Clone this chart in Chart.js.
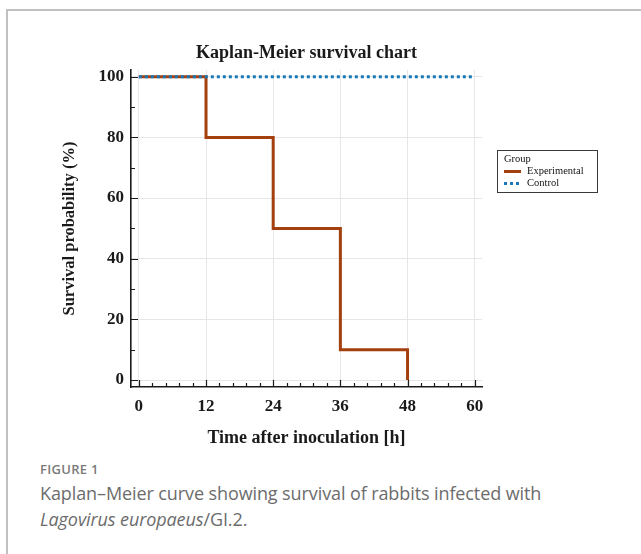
<!DOCTYPE html>
<html>
<head>
<meta charset="utf-8">
<script src="https://cdn.jsdelivr.net/npm/chart.js@4.4.1/dist/chart.umd.min.js"></script>
<style>
  html, body { margin: 0; padding: 0; background: #fff; }
  body { width: 641px; height: 554px; position: relative; overflow: hidden; }
  .frame { position: absolute; left: 6px; top: 9px; right: -10px; bottom: -10px;
           border-left: 2px solid #c0c0c0; border-top: 2px solid #c0c0c0; }
  #c { position: absolute; left: 0; top: 0; }
  .fig { position: absolute; left: 40px; top: 460px; font-family: "Open Sans", sans-serif;
         font-weight: 600; font-size: 13px; color: #7a7a7a; letter-spacing: 0.3px; }
  .cap { position: absolute; left: 40px; top: 480px; width: 598px; font-family: "Open Sans", sans-serif;
         font-size: 18px; line-height: 26px; color: #6c6c6c; letter-spacing: -0.1px; }
</style>
</head>
<body>
<div class="frame"></div>
<canvas id="c" width="641" height="450"></canvas>
<div class="fig">FIGURE 1</div>
<div class="cap">Kaplan–Meier curve showing survival of rabbits infected with<br><i>Lagovirus europaeus</i>/GI.2.</div>
<script>
// Kaplan-Meier step data (time in hours, survival in %)
const timesExperimental = [0, 12, 24, 36, 48];
const survivalExperimental = [100, 80, 50, 10, 0];
const timesControl = [0, 60];
const survivalControl = [100, 100];

const seriesNames = ['Experimental', 'Control'];
const legendTitle = 'Group';

const xTickValues = [0, 12, 24, 36, 48, 60];
const yTickValues = [0, 20, 40, 60, 80, 100];

const serif = '"Liberation Serif", "Times New Roman", serif';
const ink = '#1a1a1a';

function points(xs, ys) { return xs.map((x, i) => ({ x: x, y: ys[i] })); }

// Inward-pointing major and minor tick marks along both axes
const axisTicks = {
  id: 'axisTicks',
  afterDatasetsDraw(chart) {
    const { ctx, chartArea: a, scales: { x, y } } = chart;
    ctx.save();
    ctx.strokeStyle = ink;
    ctx.lineWidth = 1.2;
    ctx.beginPath();
    const bottom = a.bottom;
    xTickValues.forEach((v, i) => {
      const p = Math.round(x.getPixelForValue(v)) + 0.5;
      ctx.moveTo(p, bottom); ctx.lineTo(p, bottom - 7);
      if (i < xTickValues.length - 1) {
        const step = (xTickValues[i + 1] - v) / 5;
        for (let k = 1; k < 5; k++) {
          const q = Math.round(x.getPixelForValue(v + k * step)) + 0.5;
          ctx.moveTo(q, bottom); ctx.lineTo(q, bottom - 4);
        }
      }
    });
    const left = a.left;
    yTickValues.forEach((v, i) => {
      const p = Math.round(y.getPixelForValue(v)) + 0.5;
      ctx.moveTo(left, p); ctx.lineTo(left + 7, p);
      if (i < yTickValues.length - 1) {
        const q = Math.round(y.getPixelForValue((v + yTickValues[i + 1]) / 2)) + 0.5;
        ctx.moveTo(left, q); ctx.lineTo(left + 4, q);
      }
    });
    ctx.stroke();
    ctx.restore();
  }
};

// Boxed legend with a group heading, placed right of the plot
const groupLegend = {
  id: 'groupLegend',
  afterDraw(chart) {
    const { ctx } = chart;
    const bx = chart.chartArea.right + 15.5, by = 150.5, bw = 100, bh = 42;
    ctx.save();
    ctx.strokeStyle = '#3a3a3a';
    ctx.lineWidth = 1;
    ctx.strokeRect(bx, by, bw, bh);
    ctx.fillStyle = '#111';
    ctx.font = '10.5px ' + serif;
    ctx.textBaseline = 'middle';
    ctx.textAlign = 'left';
    ctx.fillText(legendTitle, bx + 6.5, by + 8.5);
    chart.data.datasets.forEach((ds, i) => {
      const yy = by + 21 + i * 12;
      ctx.strokeStyle = ds.borderColor;
      ctx.lineWidth = 3;
      ctx.setLineDash(ds.borderDash || []);
      ctx.beginPath();
      ctx.moveTo(bx + 6.5, yy);
      ctx.lineTo(bx + 23.5, yy);
      ctx.stroke();
      ctx.setLineDash([]);
      ctx.fillText(ds.label, bx + 29.5, yy);
    });
    ctx.restore();
  }
};

const tickFont = { family: serif, size: 17, weight: 'bold' };

new Chart(document.getElementById('c'), {
  type: 'line',
  data: {
    datasets: [
      {
        label: seriesNames[0],
        data: points(timesExperimental, survivalExperimental),
        borderColor: '#a3400e',
        borderWidth: 3,
        stepped: 'before',
        pointRadius: 0,
        fill: false,
        order: 1
      },
      {
        label: seriesNames[1],
        data: points(timesControl, survivalControl),
        borderColor: '#1a78b8',
        borderWidth: 3,
        borderDash: [3, 3],
        pointRadius: 0,
        fill: false,
        order: 0
      }
    ]
  },
  options: {
    responsive: false,
    animation: false,
    layout: { padding: { left: 0, right: 159, top: 0, bottom: 0 } },
    plugins: {
      legend: { display: false },
      tooltip: { enabled: false },
      title: {
        display: true,
        text: 'Kaplan-Meier survival chart',
        fullSize: false,
        color: ink,
        font: { family: serif, size: 18, weight: 'bold' },
        padding: { top: 42.5, bottom: 6 }
      }
    },
    scales: {
      x: {
        type: 'linear',
        min: -1.4,
        max: 61.3,
        afterBuildTicks: s => { s.ticks = xTickValues.map(v => ({ value: v })); },
        afterFit: s => { s.height = 63; },
        grid: { color: '#e6e6e6', lineWidth: 1, drawTicks: false },
        border: { display: true, color: ink, width: 1.6 },
        ticks: { font: tickFont, color: ink, padding: 9, maxRotation: 0, autoSkip: false,
                 callback: v => String(v) },
        title: { display: true, text: 'Time after inoculation [h]', color: ink,
                 font: { family: serif, size: 18, weight: 'bold' }, padding: { top: 0, bottom: 1 } }
      },
      y: {
        type: 'linear',
        min: -2.3,
        max: 102.2,
        afterBuildTicks: s => { s.ticks = yTickValues.map(v => ({ value: v })); },
        afterFit: s => { s.width = 131; },
        grid: { color: '#e6e6e6', lineWidth: 1, drawTicks: false },
        border: { display: true, color: ink, width: 1.6 },
        ticks: { font: tickFont, color: ink, padding: 7, autoSkip: false,
                 callback: v => String(v) },
        title: { display: true, text: 'Survival probability (%)', color: ink,
                 font: { family: serif, size: 16.5, weight: 'bold' }, padding: { top: 60, bottom: 0 } }
      }
    }
  },
  plugins: [axisTicks, groupLegend]
});
</script>
</body>
</html>
